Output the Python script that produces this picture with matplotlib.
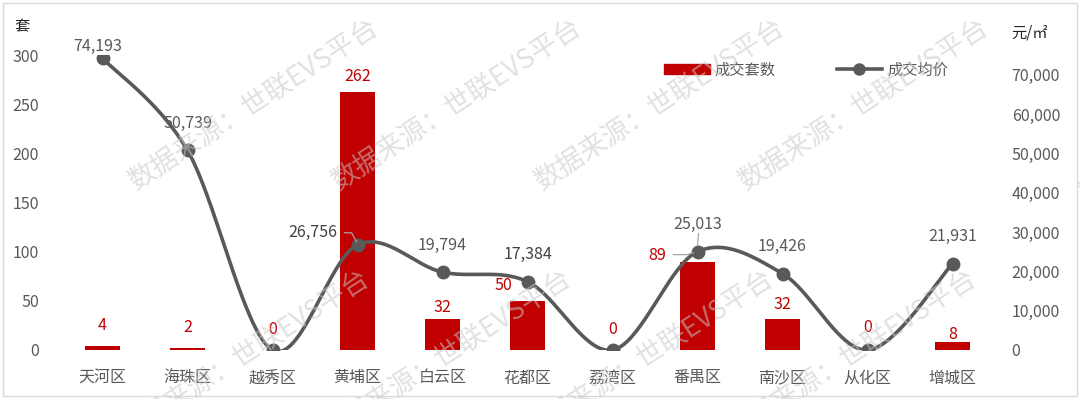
import numpy as np
import matplotlib
matplotlib.use('Agg')
import matplotlib.pyplot as plt
from matplotlib.patches import Patch
from matplotlib.lines import Line2D

plt.rcParams['font.family'] = ['Noto Sans CJK SC', 'DejaVu Sans']

# data
districts = ['天河区', '海珠区', '越秀区', '黄埔区', '白云区', '花都区',
             '荔湾区', '番禺区', '南沙区', '从化区', '增城区']
units = [4, 2, 0, 262, 32, 50, 0, 89, 32, 0, 8]
price = [74193, 50739, 0, 26756, 19794, 17384, 0, 25013, 19426, 0, 21931]

RED = '#C00000'
GREY = '#595959'
DARK = '#404040'
PX = 0.72  # points per pixel at dpi 100


def smooth(xs, ys, n=40):
    # Bezier smoothing like the office chart "smoothed line"
    xs = np.asarray(xs, float)
    ys = np.asarray(ys, float)
    px = np.concatenate([[xs[0]], xs, [xs[-1]]])
    py = np.concatenate([[ys[0]], ys, [ys[-1]]])
    ox, oy = [], []
    t = np.linspace(0, 1, n)
    for i in range(1, len(px) - 2):
        p0 = np.array([px[i], py[i]])
        p3 = np.array([px[i + 1], py[i + 1]])
        c1 = p0 + (np.array([px[i + 1], py[i + 1]]) - np.array([px[i - 1], py[i - 1]])) / 6
        c2 = p3 - (np.array([px[i + 2], py[i + 2]]) - np.array([px[i], py[i]])) / 6
        b = ((1 - t) ** 3)[:, None] * p0 + (3 * (1 - t) ** 2 * t)[:, None] * c1 \
            + (3 * (1 - t) * t ** 2)[:, None] * c2 + (t ** 3)[:, None] * p3
        ox.extend(b[:, 0])
        oy.extend(b[:, 1])
    return np.array(ox), np.array(oy)


fig = plt.figure(figsize=(10.8, 3.99), dpi=100)
ax = fig.add_axes([60 / 1080, 49 / 399, 935 / 1080, 295 / 399])
ax2 = ax.twinx()

x = np.arange(len(districts))
ax.bar(x, units, width=0.41, color=RED, zorder=2)
ax.set_ylim(0, 300)
ax.set_xlim(-0.5, len(districts) - 0.5)
ax.set_yticks(range(0, 301, 50))
ax.set_xticks(x)
ax.set_xticklabels(districts)

sx, sy = smooth(x, price)
ax2.plot(sx, sy, color=GREY, lw=2.6, zorder=3, solid_capstyle='round')
ax2.plot(x, price, 'o', color=GREY, ms=9, zorder=4)
ax2.set_ylim(0, 75000)
ax2.set_yticks(range(0, 70001, 10000))
ax2.set_yticklabels([f'{v:,}' for v in range(0, 70001, 10000)])

for a in (ax, ax2):
    for s in a.spines.values():
        s.set_visible(False)
ax.tick_params(axis='y', length=0, pad=15, labelsize=11.5, labelcolor=GREY)
ax.tick_params(axis='x', length=0, pad=14, labelsize=11.5, labelcolor=GREY)
ax2.tick_params(axis='y', length=0, pad=12, labelsize=11.5, labelcolor=GREY)
ax.set_zorder(1)
ax2.set_zorder(2)
ax.patch.set_visible(False)

# bar labels: offset of label centre from bar top, in pixels
bar_off = [(0, 21), (0, 21), (0, 20), (0, 16), (0, 11), (-24, 15),
           (0, 20), (-40, 7), (0, 14), (0, 22), (0, 8)]
for i, v in enumerate(units):
    dx, dy = bar_off[i]
    ax.annotate(str(v), (i, v), xytext=(dx * PX, dy * PX), textcoords='offset points',
                ha='center', va='center', color=RED, fontsize=11.5, zorder=5)

# price labels: offset of label centre from point, in pixels
price_off = {0: (-5, 12), 3: (-45, 12)}
for i, v in enumerate(price):
    if v == 0:
        continue
    dx, dy = price_off.get(i, (0, 27))
    ax2.annotate(f'{v:,}', (i, v), xytext=(dx * PX, dy * PX), textcoords='offset points',
                 ha='center', va='center', color=DARK if i in (3, 5) else GREY,
                 fontsize=11.5, zorder=5)


# leader lines (pixel offsets from the point)
def leader(i, pts):
    base = ax2.transData.transform((i, price[i]))
    inv = ax2.transData.inverted()
    d = np.array([inv.transform((base[0] + p[0], base[1] + p[1])) for p in pts])
    ax2.plot(d[:, 0], d[:, 1], color='#A6A6A6', lw=0.9, zorder=5)


leader(3, [(-13, 12), (-6, 12), (-1, 3)])
leader(7, [(-24, -3), (-10, -3), (-4, -1)])
leader(7, [(1, 18), (0, 6)])

# axis unit titles
fig.text(22 / 1080, 1 - 27 / 399, '套', ha='center', va='center', fontsize=11, color='#262626')
fig.text(1030 / 1080, 1 - 33 / 399, '元/㎡', ha='center', va='center', fontsize=11, color='#262626')

# legend
handles = [Patch(facecolor=RED, edgecolor=RED),
           Line2D([0], [0], color=GREY, lw=2.6, marker='o', ms=8)]
fig.legend(handles, ['成交套数', '成交均价'], loc='center',
           bbox_to_anchor=(806 / 1080, 1 - 70 / 399), ncol=2, frameon=False,
           fontsize=11, labelcolor=GREY, handlelength=3, handleheight=0.6,
           columnspacing=4, handletextpad=0.3)

# watermark
wm = '数据来源：世联EVS平台'
wm_kw = dict(rotation=33, ha='center', va='center', fontsize=19.5,
             color='#C8C8C8', alpha=0.55, zorder=10)
for cx in [254, 457, 660, 864]:
    fig.text(cx / 1080, 1 - 104 / 399, wm, **wm_kw)
for cx in [245, 447, 649, 852]:
    fig.text(cx / 1080, 1 - 355 / 399, wm, **wm_kw)
fig.text(1205 / 1080, 1 - 115 / 399, wm, **wm_kw)

# outer frame
fig.patches.append(plt.Rectangle((3 / 1080, 3 / 399), 1074 / 1080, 393 / 399,
                                 transform=fig.transFigure, fill=False,
                                 edgecolor='#D9D9D9', lw=1))

fig.savefig('out.png', dpi=100)
